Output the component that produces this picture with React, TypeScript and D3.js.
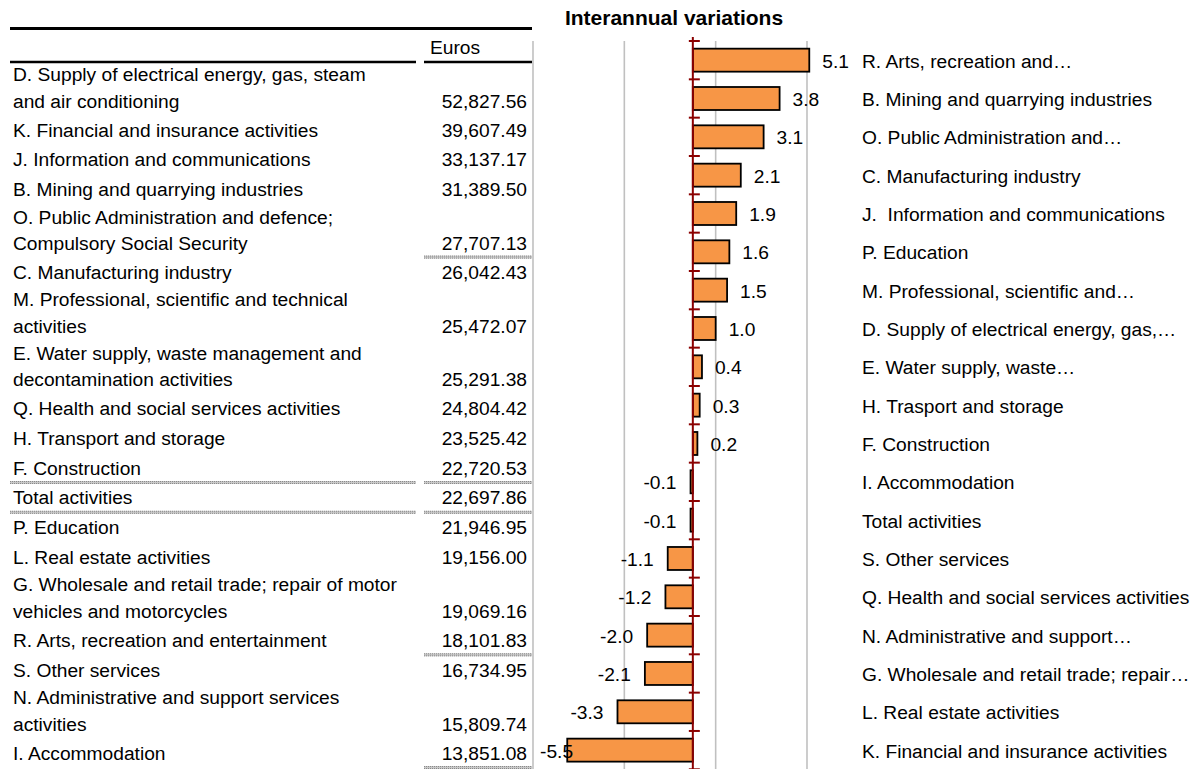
import React from "react";
import * as d3 from "d3";

// ---------- Table data ----------
const tableLabels: string[][] = [
  ["D. Supply of electrical energy, gas, steam", "and air conditioning"],
  ["K. Financial and insurance activities"],
  ["J. Information and communications"],
  ["B. Mining and quarrying industries"],
  ["O. Public Administration and defence;", "Compulsory Social Security"],
  ["C. Manufacturing industry"],
  ["M. Professional, scientific and technical", "activities"],
  ["E. Water supply, waste management and", "decontamination activities"],
  ["Q. Health and social services activities"],
  ["H. Transport and storage"],
  ["F. Construction"],
  ["Total activities"],
  ["P. Education"],
  ["L. Real estate activities"],
  ["G. Wholesale and retail trade; repair of motor", "vehicles and motorcycles"],
  ["R. Arts, recreation and entertainment"],
  ["S. Other services"],
  ["N. Administrative and support services", "activities"],
  ["I. Accommodation"],
];
const tableValues: number[] = [
  52827.56, 39607.49, 33137.17, 31389.5, 27707.13, 26042.43, 25472.07, 25291.38,
  24804.42, 23525.42, 22720.53, 22697.86, 21946.95, 19156.0, 19069.16, 18101.83,
  16734.95, 15809.74, 13851.08,
];
// separators after these rows: "value" = value column only, "both" = both columns
const separatorRows: number[] = [4, 10, 11, 15, 18];
const separatorKinds: string[] = ["value", "both", "both", "value", "value"];

// ---------- Chart data ----------
const chartCategories: string[] = [
  "R. Arts, recreation and…",
  "B. Mining and quarrying industries",
  "O. Public Administration and…",
  "C. Manufacturing industry",
  "J.  Information and communications",
  "P. Education",
  "M. Professional, scientific and…",
  "D. Supply of electrical energy, gas,…",
  "E. Water supply, waste…",
  "H. Trasport and storage",
  "F. Construction",
  "I. Accommodation",
  "Total activities",
  "S. Other services",
  "Q. Health and social services activities",
  "N. Administrative and support…",
  "G. Wholesale and retail trade; repair…",
  "L. Real estate activities",
  "K. Financial and insurance activities",
];
const chartValues: number[] = [
  5.1, 3.8, 3.1, 2.1, 1.9, 1.6, 1.5, 1.0, 0.4, 0.3, 0.2, -0.1, -0.1, -1.1, -1.2,
  -2.0, -2.1, -3.3, -5.5,
];
const gridValues: number[] = [-7, -3, 1, 5];
const chartTitle = "Interannual variations";

const W = 1197;
const H = 769;
const FONT = "'Liberation Sans', Arial, sans-serif";
const FS = 19.2;

export default function App() {
  // Table layout
  const tableTop = 62;
  const tableBottom = 768;
  const nSingle = tableLabels.filter((l) => l.length === 1).length;
  const nDouble = tableLabels.length - nSingle;
  const singleH = 29.8;
  const doubleH = (tableBottom - tableTop - nSingle * singleH) / nDouble;
  const rowTops: number[] = [];
  let acc = tableTop;
  tableLabels.forEach((l) => {
    rowTops.push(acc);
    acc += l.length === 1 ? singleH : doubleH;
  });
  const rowH = (i: number) => (tableLabels[i].length === 1 ? singleH : doubleH);
  const fmt = d3.format(",.2f");

  const textX = 13;
  const valX = 527;
  const colA = [10, 416];
  const colB = [424, 532];

  // Chart scales
  const x = d3.scaleLinear().domain([-7, 5]).range([533, 807]);
  const y = d3
    .scaleBand<string>()
    .domain(chartCategories)
    .range([41, 769.3])
    .padding(0);
  const step = y.step();
  const barH = step * 0.6;
  const x0 = x(0);
  const vfmt = (v: number) => d3.format(".1f")(v).replace("\u2212", "-");

  const sepLine = (x1: number, x2: number, yy: number, key: string) => (
    <g key={key}>
      <rect x={x1} y={yy - 1.5} width={x2 - x1} height={3} fill="#c8c8c8" />
      <line x1={x1} x2={x2} y1={yy - 1} y2={yy - 1} stroke="#8a8a8a" strokeWidth={1} strokeDasharray="1 1" />
      <line x1={x1} x2={x2} y1={yy + 1} y2={yy + 1} stroke="#8a8a8a" strokeWidth={1} strokeDasharray="1 1" />
    </g>
  );

  return (
    <div style={{ position: "absolute", left: 0, top: 0 }}>
      <svg width={W} height={H} style={{ display: "block", background: "#fff" }} fontFamily={FONT}>
        {/* Title */}
        <text x={674} y={17} textAnchor="middle" dominantBaseline="central" fontWeight="bold" fontSize={21} fill="#000">
          {chartTitle}
        </text>

        {/* Table header */}
        <line x1={10} x2={532} y1={28.5} y2={28.5} stroke="#000" strokeWidth={3} />
        <text x={430} y={47} dominantBaseline="central" fontSize={FS} fill="#000">
          Euros
        </text>
        <line x1={colA[0]} x2={colA[1]} y1={62} y2={62} stroke="#000" strokeWidth={2.5} />
        <line x1={colB[0]} x2={colB[1]} y1={62} y2={62} stroke="#000" strokeWidth={2.5} />

        {/* Table rows */}
        {tableLabels.map((lines, i) => {
          const top = rowTops[i];
          const h = rowH(i);
          const lineYs = lines.length === 1 ? [top + h / 2] : [top + 12.5, top + 39];
          return (
            <g key={"row" + i}>
              {lines.map((ln, j) => (
                <text key={j} x={textX} y={lineYs[j]} dominantBaseline="central" fontSize={FS} fill="#000">
                  {ln}
                </text>
              ))}
              <text x={valX} y={lineYs[lineYs.length - 1]} textAnchor="end" dominantBaseline="central" fontSize={FS} fill="#000">
                {fmt(tableValues[i])}
              </text>
            </g>
          );
        })}

        {/* Separators */}
        {separatorRows.map((r, k) => {
          const yy = rowTops[r] + rowH(r) - 0.5;
          return (
            <g key={"sep" + k}>
              {separatorKinds[k] === "both" && sepLine(colA[0], colA[1], yy, "a")}
              {sepLine(colB[0], colB[1], yy, "b")}
            </g>
          );
        })}

        {/* Gridlines */}
        {gridValues.map((g) => (
          <line key={"g" + g} x1={x(g)} x2={x(g)} y1={41} y2={H} stroke="#c0c0c0" strokeWidth={1.6} />
        ))}

        {/* Bars */}
        {chartCategories.map((c, i) => {
          const v = chartValues[i];
          const bx = Math.min(x(v), x0);
          const bw = Math.abs(x(v) - x0);
          const cy = (y(c) as number) + step / 2;
          return (
            <rect
              key={"b" + i}
              x={bx}
              y={cy - barH / 2}
              width={bw}
              height={barH}
              fill="#F79646"
              stroke="#000"
              strokeWidth={1.8}
            />
          );
        })}

        {/* Axis */}
        <line x1={x0} x2={x0} y1={37} y2={H} stroke="#8B0000" strokeWidth={2} />
        {d3.range(chartCategories.length + 1).map((i) => {
          const ty = 41 + i * step;
          return <line key={"t" + i} x1={x0 - 4} x2={x0 + 7} y1={ty} y2={ty} stroke="#8B0000" strokeWidth={2} />;
        })}

        {/* Value labels */}
        {chartCategories.map((c, i) => {
          const v = chartValues[i];
          const cy = (y(c) as number) + step / 2;
          if (v >= 0) {
            return (
              <text key={"v" + i} x={x(v) + 13} y={cy + 1} dominantBaseline="central" fontSize={FS} fill="#000">
                {vfmt(v)}
              </text>
            );
          }
          const end = x(v) - 14;
          const minStart = 540;
          const approxW = vfmt(v).length * FS * 0.5;
          const useStart = end - approxW < minStart;
          return (
            <text
              key={"v" + i}
              x={useStart ? minStart : end}
              y={cy + 1}
              textAnchor={useStart ? "start" : "end"}
              dominantBaseline="central"
              fontSize={FS}
              fill="#000"
            >
              {vfmt(v)}
            </text>
          );
        })}

        {/* Category labels */}
        {chartCategories.map((c, i) => (
          <text
            key={"c" + i}
            x={862}
            y={(y(c) as number) + step / 2 + 1}
            dominantBaseline="central"
            fontSize={FS}
            fill="#000"
            style={{ whiteSpace: "pre" }}
          >
            {c}
          </text>
        ))}
      </svg>
    </div>
  );
}
